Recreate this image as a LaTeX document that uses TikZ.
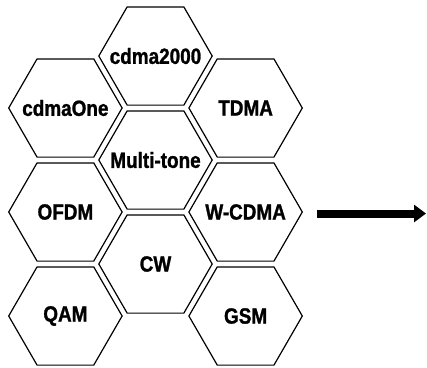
\documentclass[tikz,border=0pt]{standalone}
\usepackage{fontspec}
\setmainfont{Liberation Sans}[FakeStretch=0.86,BoldFeatures={FakeBold=1.2}]
\usetikzlibrary{arrows.meta}
\tikzset{
  hextext/.style={inner sep=0pt, font=\fontsize{22}{24}\selectfont\bfseries, text=black},
  hexline/.style={draw=black, line width=1.2pt, line join=miter},
  bigarrow/.style={line width=8pt, -{Triangle[length=12pt,width=17pt]}, draw=black}
}
\newcommand{\hexcellat}[3]{%
  \node[hextext] (#1) at (#2) {#3};
  \draw[hexline] (#1.center) +(-56.7,0) -- +(-28.35,-49.1) -- +(28.35,-49.1)
     -- +(56.7,0) -- +(28.35,49.1) -- +(-28.35,49.1) -- cycle;}
\begin{document}
\begin{tikzpicture}[x=1pt,y=-1pt]
\useasboundingbox (0,0) rectangle (427,367);
% middle column
\hexcellat{cdma2000}{155.5,56}{cdma2000}
\hexcellat{multitone}{155.5,160}{Multi-tone}
\hexcellat{cw}{155.5,264}{CW}
% left column
\hexcellat{cdmaone}{65.4,108}{cdmaOne}
\hexcellat{ofdm}{65.4,212}{OFDM}
\hexcellat{qam}{65.4,316}{QAM}
% right column
\hexcellat{tdma}{245.6,108}{TDMA}
\hexcellat{wcdma}{245.6,212}{W-CDMA}
\hexcellat{gsm}{245.6,316}{GSM}
% arrow
\coordinate (astart) at (317,213.5);
\coordinate (aend) at (426,213.5);
\draw[bigarrow] (astart) -- (aend);
\end{tikzpicture}
\end{document}
